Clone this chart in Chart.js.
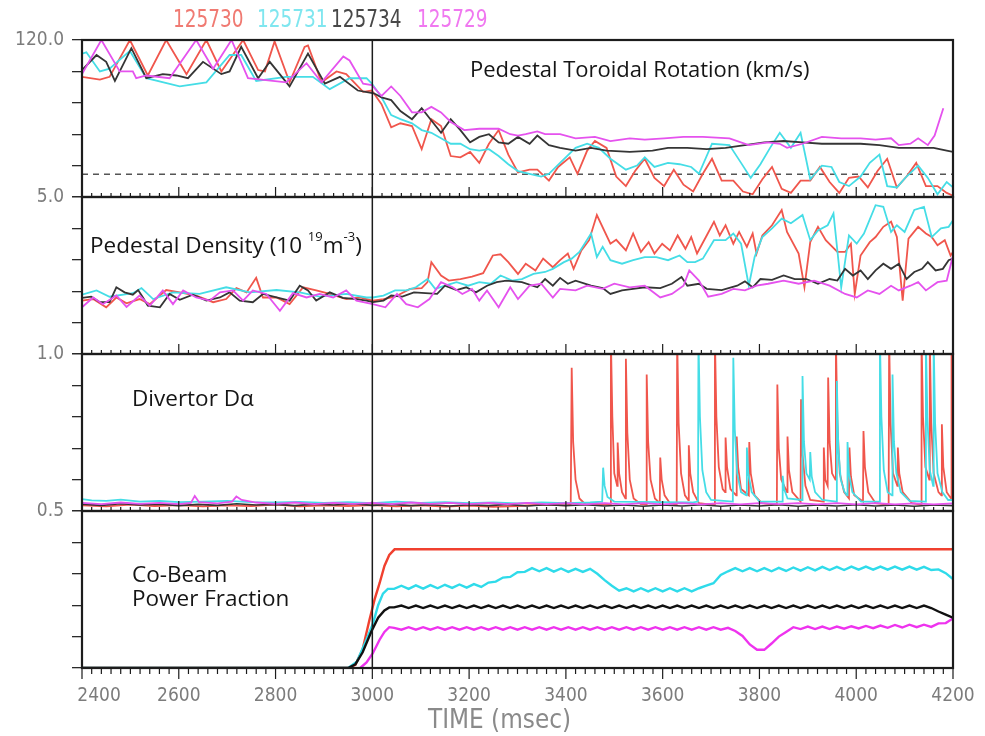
<!DOCTYPE html>
<html lang="en">
<head>
<meta charset="utf-8" />
<title>Pedestal rotation, density, D-alpha and co-beam fraction</title>
<style>
  body { margin: 0; background: #fff; }
  #wrap { position: relative; width: 985px; height: 736px; overflow: hidden; }
  #wrap canvas { position: absolute; left: 0; top: 0; }
  .lbl { position: absolute; font-family: 'Open Sans', 'Noto Sans', sans-serif; font-size: 22.5px; color: #151515; white-space: nowrap; line-height: 1; }
  .lbl sup { font-size: 13px; position: relative; top: -3px; }
  .shot { position: absolute; top: 6px; font-family: 'DejaVu Sans', sans-serif; font-size: 25px; line-height: 1; transform-origin: 0 0; transform: scaleX(0.74); }
  .xtitle { position: absolute; left: 428px; top: 705px; font-family: 'DejaVu Sans', sans-serif; font-size: 27px; color: #8a8a8a; line-height: 1; transform-origin: 0 0; transform: scaleX(0.86); }
</style>
</head>
<body>
<div id="wrap">
  <canvas id="chart" width="985" height="736"></canvas>
  <span class="shot" style="left:173px;color:#f07a72">125730</span>
  <span class="shot" style="left:257px;color:#7fe6ef">125731</span>
  <span class="shot" style="left:331px;color:#484848">125734</span>
  <span class="shot" style="left:417px;color:#f078f0">125729</span>
  <div class="lbl" style="left:470px;top:57px;font-size:22px">Pedestal Toroidal Rotation (km/s)</div>
  <div class="lbl" style="left:90px;top:233px">Pedestal Density (10 <sup>19</sup>m<sup>-3</sup>)</div>
  <div class="lbl" style="left:132px;top:387px">Divertor D&alpha;</div>
  <div class="lbl" style="left:132px;top:562px;line-height:24px">Co-Beam<br>Power Fraction</div>
  <div class="xtitle">TIME (msec)</div>
</div>

<script src="https://cdn.jsdelivr.net/npm/chart.js"></script>
<script>
  const shots = ['125730', '125731', '125734', '125729'];
  const colors = { '125730': '#f0564c', '125731': '#45dde6', '125734': '#353535', '125729': '#e552ee' };

  const xTicks = [2400, 2600, 2800, 3000, 3200, 3400, 3600, 3800, 4000, 4200];

  // Pedestal toroidal rotation, km/s  [msec, value]
  const rot730 = [[2400,93],[2437,91],[2457,93],[2499,120],[2536,94],[2574,120],[2616,95],[2657,120],[2688,97],[2733,120],[2764,98],[2778,97],[2798,119],[2829,89],[2860,115],[2867,116],[2895,89],[2926,97],[2946,95],[2981,82],[2999,83],[3019,73],[3039,56],[3058,59],[3082,57],[3102,40],[3122,62],[3142,57],[3162,35],[3182,34],[3202,38],[3221,30],[3241,44],[3261,54],[3281,36],[3301,23],[3325,25],[3341,25],[3365,17],[3384,27],[3408,34],[3424,22],[3444,39],[3460,46],[3484,41],[3504,20],[3524,13],[3543,24],[3563,33],[3583,19],[3603,13],[3623,25],[3643,14],[3663,9],[3683,22],[3702,33],[3722,17],[3746,17],[3766,9],[3786,7],[3806,18],[3826,27],[3846,11],[3865,8],[3885,17],[3905,17],[3925,27],[3945,16],[3965,8],[3985,19],[4005,20],[4024,12],[4044,24],[4064,33],[4084,12],[4104,20],[4124,30],[4144,13],[4168,13],[4187,8],[4200,6]];
  const rot731 = [[2400,110],[2409,111],[2437,97],[2457,99],[2499,112],[2533,92],[2602,86],[2657,89],[2705,109],[2729,109],[2760,90],[2822,93],[2877,93],[2912,84],[2953,92],[2988,92],[2999,88],[3019,78],[3039,65],[3058,62],[3082,59],[3102,54],[3122,52],[3142,48],[3162,44],[3182,44],[3202,40],[3221,39],[3241,40],[3261,35],[3281,29],[3301,24],[3325,22],[3349,20],[3365,22],[3388,30],[3420,41],[3444,44],[3468,41],[3492,33],[3524,25],[3547,28],[3563,34],[3583,27],[3611,30],[3635,29],[3659,27],[3675,22],[3702,44],[3738,43],[3762,30],[3782,19],[3802,29],[3822,41],[3842,52],[3865,41],[3885,52],[3905,18],[3929,28],[3949,27],[3965,16],[3985,13],[4009,20],[4028,30],[4048,36],[4064,13],[4084,12],[4104,20],[4128,28],[4148,19],[4168,7],[4187,16],[4200,12]];
  const rot734 = [[2400,98],[2430,109],[2450,104],[2468,90],[2502,114],[2533,92],[2567,95],[2595,94],[2619,92],[2650,104],[2688,95],[2705,97],[2729,115],[2764,92],[2788,104],[2829,86],[2867,110],[2902,88],[2933,93],[2970,83],[3003,81],[3019,78],[3039,76],[3058,68],[3082,62],[3102,70],[3122,61],[3142,52],[3162,62],[3182,54],[3202,45],[3221,49],[3241,51],[3261,45],[3281,44],[3301,49],[3325,44],[3341,50],[3365,43],[3388,41],[3420,39],[3452,41],[3484,39],[3532,38],[3579,39],[3611,41],[3651,41],[3691,40],[3730,41],[3770,43],[3810,45],[3850,46],[3889,45],[3929,44],[3969,44],[4009,44],[4048,43],[4088,41],[4128,41],[4160,41],[4187,39],[4200,38]];
  const rot729 = [[2400,95],[2440,120],[2478,97],[2505,97],[2512,92],[2533,94],[2581,92],[2636,120],[2671,99],[2709,120],[2743,92],[2822,89],[2864,103],[2895,89],[2940,108],[2953,105],[2981,88],[2999,87],[3019,79],[3039,86],[3058,79],[3082,67],[3102,67],[3122,71],[3142,67],[3162,60],[3190,54],[3221,55],[3261,55],[3285,51],[3301,50],[3317,51],[3341,53],[3357,51],[3388,51],[3420,48],[3460,49],[3492,46],[3532,48],[3563,47],[3603,48],[3643,49],[3683,49],[3738,48],[3778,43],[3818,45],[3842,44],[3857,41],[3889,44],[3929,49],[3969,48],[4009,48],[4040,47],[4072,48],[4088,43],[4112,44],[4128,48],[4148,43],[4162,50],[4180,70]];
  const rotRef = [[2400,21.7],[4200,21.7]];

  // Pedestal density, 10^19 m^-3
  const dens730 = [[2400,2.36],[2423,2.40],[2450,2.19],[2471,2.44],[2492,2.29],[2519,2.40],[2540,2.27],[2574,2.63],[2602,2.57],[2636,2.49],[2671,2.32],[2698,2.40],[2719,2.68],[2740,2.57],[2760,2.94],[2774,2.44],[2802,2.44],[2829,2.27],[2857,2.70],[2884,2.62],[2912,2.53],[2946,2.40],[2974,2.44],[3001,2.36],[3023,2.40],[3047,2.46],[3078,2.66],[3102,2.68],[3114,2.83],[3122,3.34],[3142,3.00],[3158,2.87],[3182,2.91],[3206,2.97],[3229,3.06],[3249,3.51],[3265,3.54],[3281,3.34],[3301,3.04],[3317,3.30],[3337,3.13],[3353,3.43],[3373,3.21],[3388,3.39],[3404,3.56],[3416,3.17],[3432,3.64],[3448,3.90],[3464,4.54],[3492,3.81],[3504,3.91],[3524,3.64],[3539,4.07],[3555,3.60],[3571,3.85],[3583,3.56],[3599,3.81],[3615,3.64],[3631,4.02],[3647,3.68],[3659,3.98],[3671,3.56],[3691,4.02],[3706,4.37],[3718,4.02],[3730,4.28],[3746,3.81],[3758,4.11],[3774,3.73],[3786,4.07],[3794,3.56],[3806,4.02],[3826,4.28],[3846,4.67],[3857,4.11],[3881,3.56],[3893,2.70],[3905,3.85],[3921,4.24],[3937,3.90],[3961,3.60],[3977,3.60],[3989,3.81],[3997,2.53],[4009,3.51],[4028,3.85],[4040,3.98],[4056,4.24],[4072,4.37],[4084,3.98],[4096,2.36],[4108,3.94],[4128,4.24],[4144,4.07],[4156,3.98],[4168,3.77],[4183,3.90],[4195,3.51],[4200,3.60]];
  const dens731 = [[2400,2.51],[2430,2.62],[2457,2.46],[2505,2.55],[2523,2.68],[2547,2.40],[2588,2.57],[2643,2.53],[2698,2.70],[2747,2.57],[2802,2.63],[2850,2.57],[2891,2.46],[2946,2.53],[2988,2.44],[3001,2.44],[3023,2.49],[3047,2.62],[3070,2.62],[3090,2.70],[3114,2.91],[3130,2.66],[3150,2.74],[3174,2.83],[3198,2.74],[3221,2.83],[3245,2.79],[3265,3.00],[3289,2.87],[3309,2.91],[3333,3.04],[3357,3.09],[3373,3.17],[3396,3.34],[3412,3.43],[3428,3.60],[3452,4.07],[3464,3.47],[3476,3.73],[3492,3.39],[3516,3.30],[3539,3.39],[3563,3.47],[3587,3.47],[3611,3.39],[3635,3.51],[3651,3.34],[3667,3.34],[3683,3.43],[3706,3.90],[3730,3.90],[3746,4.07],[3762,3.81],[3778,2.74],[3790,3.47],[3806,3.98],[3826,4.20],[3846,4.45],[3865,4.33],[3889,4.54],[3905,3.90],[3921,4.15],[3941,4.28],[3953,4.58],[3969,2.70],[3985,4.02],[4001,3.81],[4016,4.07],[4040,4.79],[4056,4.75],[4072,4.11],[4084,4.28],[4100,4.11],[4120,4.67],[4140,4.75],[4156,3.98],[4175,4.20],[4191,4.24],[4200,4.41]];
  const dens734 = [[2400,2.43],[2419,2.46],[2437,2.32],[2457,2.32],[2471,2.70],[2488,2.57],[2505,2.51],[2516,2.63],[2526,2.44],[2536,2.23],[2561,2.19],[2581,2.53],[2602,2.38],[2629,2.51],[2657,2.36],[2685,2.44],[2705,2.57],[2726,2.36],[2753,2.32],[2774,2.53],[2802,2.44],[2829,2.36],[2850,2.74],[2867,2.62],[2884,2.36],[2912,2.57],[2939,2.43],[2967,2.40],[2988,2.36],[3001,2.32],[3023,2.36],[3039,2.49],[3062,2.46],[3086,2.57],[3110,2.55],[3134,2.53],[3150,2.74],[3174,2.63],[3194,2.70],[3214,2.57],[3237,2.74],[3257,2.83],[3277,2.87],[3309,2.83],[3341,2.70],[3357,2.91],[3373,2.74],[3388,2.94],[3404,2.79],[3420,2.87],[3452,2.74],[3476,2.68],[3492,2.53],[3516,2.62],[3539,2.66],[3563,2.70],[3595,2.68],[3619,2.79],[3639,2.96],[3651,2.74],[3675,2.79],[3691,2.66],[3722,2.63],[3754,2.74],[3770,2.85],[3786,2.70],[3802,2.91],[3826,2.89],[3850,3.00],[3873,2.91],[3897,2.91],[3921,2.79],[3945,2.91],[3961,2.87],[3977,3.17],[3993,3.00],[4009,3.13],[4024,2.91],[4040,3.13],[4056,3.30],[4072,3.17],[4088,3.30],[4104,2.91],[4120,3.09],[4136,3.17],[4148,3.34],[4164,3.13],[4179,3.17],[4191,3.39],[4200,3.43]];
  const dens729 = [[2400,2.19],[2423,2.44],[2443,2.27],[2471,2.49],[2492,2.20],[2519,2.49],[2540,2.23],[2567,2.62],[2588,2.27],[2609,2.62],[2636,2.44],[2664,2.36],[2685,2.57],[2712,2.62],[2733,2.36],[2753,2.62],[2781,2.53],[2809,2.10],[2836,2.55],[2864,2.44],[2891,2.53],[2919,2.44],[2946,2.62],[2967,2.36],[3001,2.27],[3027,2.19],[3051,2.53],[3070,2.27],[3094,2.19],[3118,2.40],[3142,2.83],[3166,2.70],[3186,2.53],[3206,2.66],[3221,2.36],[3237,2.62],[3261,2.19],[3285,2.70],[3301,2.40],[3325,2.74],[3349,2.79],[3373,2.44],[3388,2.66],[3420,2.62],[3444,2.74],[3476,2.66],[3500,2.79],[3532,2.70],[3563,2.74],[3595,2.44],[3619,2.53],[3643,2.74],[3655,3.13],[3675,2.87],[3694,2.46],[3722,2.53],[3746,2.66],[3770,2.62],[3794,2.74],[3818,2.79],[3850,2.87],[3881,2.79],[3913,2.87],[3945,2.74],[3977,2.53],[4001,2.44],[4024,2.62],[4048,2.53],[4072,2.74],[4088,2.62],[4112,2.74],[4128,2.83],[4144,2.62],[4168,2.83],[4187,2.87],[4200,3.51]];

  // Divertor D-alpha (values above 1.0 run off the top of the panel)
  const da730 = [[2400,0.518],[2450,0.515],[2500,0.52],[2550,0.516],[2600,0.519],[2650,0.515],[2700,0.518],[2750,0.516],[2800,0.52],[2850,0.515],[2900,0.518],[2950,0.516],[3000,0.519],[3050,0.515],[3100,0.518],[3150,0.514],[3200,0.517],[3250,0.513],[3300,0.516],[3350,0.52],[3400,0.518],
    [3410,0.52],[3412,0.956],[3415,0.72],[3420,0.6],[3428,0.54],[3440,0.522],[3470,0.52],[3492,0.52],[3493,1.05],[3496,0.8],[3500,0.62],
    [3506,0.58],[3507,0.718],[3510,0.62],[3516,0.56],[3523,0.54],[3524,0.985],[3527,0.75],[3532,0.6],[3540,0.54],[3555,0.522],
    [3566,0.52],[3567,0.935],[3570,0.72],[3575,0.6],[3584,0.54],[3594,0.525],[3595,0.67],[3598,0.6],[3604,0.55],[3615,0.525],
    [3629,0.52],[3630,1.05],[3633,0.78],[3638,0.62],[3646,0.55],[3653,0.535],[3654,0.709],[3657,0.62],[3663,0.56],[3675,0.525],[3700,0.52],
    [3707,0.52],[3708,1.05],[3711,0.8],[3716,0.64],[3724,0.57],[3729,0.56],[3730,0.734],[3733,0.64],[3740,0.57],
    [3752,0.55],[3753,0.737],[3756,0.64],[3762,0.57],[3778,0.55],[3779,0.72],[3782,0.62],[3790,0.55],[3805,0.525],
    [3836,0.52],[3837,0.903],[3840,0.7],[3845,0.6],[3857,0.56],[3858,0.737],[3861,0.63],[3868,0.56],
    [3885,0.53],[3886,0.856],[3889,0.68],[3895,0.58],[3905,0.535],[3932,0.53],[3933,0.702],[3936,0.6],
    [3941,0.58],[3942,0.925],[3945,0.72],[3950,0.62],[3957,0.6],[3958,1.05],[3961,0.78],[3966,0.62],[3975,0.56],
    [3985,0.54],[3986,0.702],[3989,0.61],[3996,0.55],[4014,0.53],[4015,0.755],[4018,0.64],[4025,0.56],[4040,0.525],
    [4067,0.52],[4068,1.05],[4071,0.78],[4076,0.62],[4085,0.58],[4086,0.702],[4089,0.62],[4096,0.56],[4115,0.525],
    [4134,0.52],[4135,1.05],[4138,0.8],[4143,0.64],[4151,0.6],[4152,1.05],[4155,0.78],[4160,0.62],[4170,0.56],
    [4176,0.55],[4177,0.776],[4180,0.64],[4187,0.56],[4196,0.54],[4197,1.05],[4200,0.8]];
  const da731 = [[2400,0.538],[2420,0.534],[2450,0.532],[2480,0.536],[2520,0.53],[2560,0.532],[2600,0.528],[2650,0.53],[2700,0.532],[2750,0.528],[2800,0.527],[2850,0.529],[2900,0.526],[2950,0.528],[3000,0.525],[3050,0.53],[3100,0.526],[3150,0.528],[3200,0.525],[3250,0.527],[3300,0.524],[3350,0.527],[3400,0.525],[3450,0.527],
    [3475,0.53],[3477,0.638],[3480,0.58],[3486,0.545],[3500,0.53],[3600,0.528],[3660,0.527],
    [3673,0.53],[3674,1.05],[3677,0.8],[3682,0.63],[3690,0.56],[3700,0.535],
    [3745,0.53],[3746,0.988],[3749,0.76],[3754,0.62],[3762,0.56],[3773,0.55],[3774,0.702],[3777,0.62],[3784,0.56],[3800,0.53],
    [3847,0.53],[3848,0.612],[3851,0.57],[3858,0.54],[3888,0.535],[3889,0.93],[3892,0.72],[3897,0.62],
    [3904,0.6],[3905,0.688],[3908,0.61],[3915,0.56],[3930,0.535],[3959,0.53],[3960,0.914],[3963,0.7],[3968,0.6],[3976,0.56],
    [3981,0.55],[3982,0.72],[3985,0.62],[3992,0.56],[4010,0.53],[4048,0.53],[4049,1.05],[4052,0.8],[4057,0.63],[4065,0.56],
    [4074,0.55],[4075,0.935],[4078,0.72],[4083,0.62],[4092,0.56],[4110,0.532],
    [4143,0.53],[4144,1.05],[4147,0.8],[4152,0.63],[4159,0.58],[4160,1.05],[4163,0.78],[4168,0.62],[4178,0.56],[4190,0.535],[4200,0.535]];
  const da734 = [[2400,0.522],[2440,0.518],[2480,0.523],[2520,0.519],[2560,0.522],[2600,0.517],[2640,0.521],[2680,0.518],[2720,0.523],[2760,0.519],[2800,0.521],[2840,0.517],[2880,0.522],[2920,0.519],[2960,0.523],[3000,0.518],[3040,0.521],[3080,0.517],[3120,0.52],[3160,0.516],[3200,0.52],[3240,0.517],[3280,0.521],[3320,0.516],[3360,0.52],[3400,0.517],[3440,0.52],[3480,0.516],[3520,0.519],[3560,0.515],[3600,0.519],[3640,0.516],[3680,0.52],[3720,0.515],[3760,0.519],[3800,0.516],[3840,0.52],[3880,0.515],[3920,0.519],[3960,0.516],[4000,0.52],[4040,0.516],[4080,0.519],[4120,0.515],[4160,0.519],[4200,0.517]];
  const da729 = [[2400,0.526],[2440,0.522],[2480,0.527],[2520,0.523],[2560,0.526],[2600,0.522],[2625,0.526],[2633,0.548],[2642,0.528],[2680,0.524],[2710,0.53],[2719,0.546],[2730,0.535],[2760,0.527],[2800,0.523],[2840,0.527],[2880,0.522],[2920,0.526],[2960,0.523],[3000,0.526],[3040,0.522],[3080,0.527],[3120,0.523],[3160,0.526],[3200,0.522],[3240,0.526],[3280,0.522],[3320,0.526],[3360,0.522],[3400,0.525],[3440,0.521],[3480,0.525],[3520,0.521],[3560,0.525],[3600,0.521],[3640,0.525],[3680,0.521],[3720,0.525],[3760,0.521],[3800,0.525],[3840,0.522],[3880,0.525],[3920,0.521],[3960,0.525],[4000,0.521],[4040,0.525],[4080,0.521],[4120,0.524],[4160,0.521],[4200,0.524]];

  // Co-beam power fraction: turn-on ramps, then the wavy plateaus sampled every 15 msec
  const beam730 = [[2400,0],[2950,0],[2965,0.01],[2980,0.06],[2994,0.153],[3005,0.22],[3015,0.27],[3025,0.325],[3035,0.36],[3046,0.378],[4200,0.378]];
  const ramp731 = [[2400,0],[2950,0],[2968,0.02],[2985,0.08],[3001,0.14],[3012,0.2],[3022,0.237],[3032,0.252]];
  const ramp734 = [[2400,0],[2950,0],[2965,0.012],[2980,0.05],[2998,0.116],[3012,0.16],[3025,0.183],[3035,0.193]];
  const ramp729 = [[2975,0],[2988,0.018],[3001,0.047],[3015,0.09],[3025,0.115],[3035,0.13]];
  const beamT = Array.from({ length: 78 }, (_, i) => 3045 + 15 * i);
  const plateau731 = [0.252,0.262,0.252,0.263,0.253,0.264,0.254,0.265,0.255,0.266,0.256,0.267,0.258,0.272,0.275,0.288,0.290,0.305,0.306,0.318,
    0.308,0.318,0.307,0.317,0.306,0.316,0.306,0.316,0.300,0.280,0.262,0.246,0.254,0.244,0.254,0.244,0.254,0.244,0.254,0.244,
    0.254,0.244,0.254,0.262,0.270,0.296,0.308,0.318,0.308,0.318,0.308,0.318,0.308,0.319,0.309,0.320,0.310,0.321,0.311,0.322,
    0.312,0.322,0.312,0.323,0.313,0.323,0.313,0.323,0.313,0.323,0.313,0.323,0.313,0.322,0.312,0.314,0.302,0.283];
  const plateau734 = [0.193,0.199,0.191,0.199,0.191,0.199,0.191,0.199,0.191,0.199,0.191,0.199,0.191,0.199,0.191,0.199,0.191,0.199,0.191,0.199,
    0.191,0.199,0.191,0.199,0.191,0.199,0.191,0.199,0.191,0.199,0.191,0.199,0.191,0.199,0.191,0.199,0.191,0.199,0.191,0.199,
    0.191,0.199,0.191,0.199,0.191,0.199,0.191,0.199,0.191,0.199,0.191,0.199,0.191,0.199,0.191,0.199,0.191,0.199,0.191,0.199,
    0.191,0.199,0.191,0.199,0.191,0.199,0.191,0.199,0.191,0.199,0.191,0.199,0.191,0.199,0.191,0.180,0.170,0.160];
  const plateau729 = [0.128,0.122,0.130,0.122,0.130,0.122,0.130,0.122,0.130,0.122,0.130,0.122,0.130,0.122,0.130,0.122,0.130,0.122,0.130,0.122,
    0.130,0.122,0.130,0.122,0.130,0.122,0.130,0.122,0.130,0.122,0.130,0.122,0.130,0.122,0.130,0.122,0.130,0.122,0.130,0.122,
    0.130,0.122,0.130,0.122,0.130,0.122,0.128,0.118,0.102,0.075,0.058,0.058,0.078,0.100,0.115,0.130,0.124,0.132,0.124,0.132,
    0.124,0.132,0.125,0.133,0.126,0.134,0.127,0.135,0.128,0.137,0.129,0.138,0.130,0.138,0.131,0.142,0.143,0.158];

  const zip = (ts, vs) => ts.map((t, i) => [t, vs[i]]);
  const beam731 = ramp731.concat(zip(beamT, plateau731));
  const beam734 = ramp734.concat(zip(beamT, plateau734));
  const beam729 = ramp729.concat(zip(beamT, plateau729));

  const tickFont = { family: "'DejaVu Sans Condensed', 'DejaVu Sans', sans-serif", size: 19 };

  function line(data, shot, axis, width, order, extra) {
    return Object.assign({
      label: shot, data, yAxisID: axis,
      borderColor: colors[shot], borderWidth: width,
      pointRadius: 0, tension: 0, fill: false, order,
      clip: { left: 0, right: 0, top: 0, bottom: 1 }
    }, extra || {});
  }

  // one stacked y axis per panel; only some ends carry a label
  function panelAxis(ticks, labels) {
    return {
      type: 'linear', position: 'left', stack: 'panels', stackWeight: 1,
      min: ticks[0], max: ticks[ticks.length - 1],
      afterBuildTicks: s => { s.ticks = ticks.map(v => ({ value: v })); },
      afterFit: s => { s.width = 82; },
      grid: { drawOnChartArea: false, drawTicks: true, tickLength: 10, color: '#2a2a2a', lineWidth: 1.3 },
      border: { display: false },
      ticks: {
        autoSkip: false, padding: 8, color: '#7c7c7c', font: tickFont,
        callback: v => {
          const hit = labels.find(l => Math.abs(l[0] - v) < 1e-6);
          return hit ? hit[1] : '';
        }
      }
    };
  }

  const panelIds = ['p1', 'p2', 'p3', 'p4'];

  const panelFrame = {
    id: 'panelFrame',
    afterDatasetsDraw(chart) {
      const { ctx, chartArea: a, scales } = chart;
      const xs = scales.x;
      ctx.save();
      ctx.strokeStyle = '#1c1c1c';

      // shot reference at 3000 msec
      ctx.lineWidth = 1.5;
      const xm = xs.getPixelForValue(3000);
      ctx.beginPath(); ctx.moveTo(xm, a.top); ctx.lineTo(xm, a.bottom); ctx.stroke();

      // time ticks along the bottom of each panel
      ctx.lineWidth = 1.2;
      for (const id of panelIds) {
        const s = scales[id];
        const down = id === 'p4';
        ctx.beginPath();
        for (let t = 2400; t <= 4200; t += 20) {
          const major = t % 200 === 0;
          const x = xs.getPixelForValue(t);
          const len = down ? (major ? 11 : 6) : (major ? 10 : 4);
          ctx.moveTo(x, s.bottom);
          ctx.lineTo(x, down ? s.bottom + len : s.bottom - len);
        }
        ctx.stroke();
      }

      ctx.lineWidth = 2.2;
      for (const id of panelIds) {
        const s = scales[id];
        ctx.strokeRect(a.left, s.top, a.right - a.left, s.bottom - s.top);
      }
      ctx.restore();
    }
  };

  new Chart(document.getElementById('chart'), {
    type: 'line',
    data: {
      datasets: [
        line(rot729, '125729', 'p1', 1.8, 1),
        line(rot734, '125734', 'p1', 1.8, 2),
        line(rot731, '125731', 'p1', 1.8, 3),
        line(rot730, '125730', 'p1', 1.8, 4),
        { label: 'ref', data: rotRef, yAxisID: 'p1', borderColor: '#555', borderWidth: 1.4, borderDash: [6, 5], pointRadius: 0, order: 5 },

        line(dens729, '125729', 'p2', 1.8, 1),
        line(dens734, '125734', 'p2', 1.8, 2),
        line(dens731, '125731', 'p2', 1.8, 3),
        line(dens730, '125730', 'p2', 1.8, 4),

        line(da729, '125729', 'p3', 1.8, 1),
        line(da734, '125734', 'p3', 1.6, 2),
        line(da731, '125731', 'p3', 1.8, 3),
        line(da730, '125730', 'p3', 1.8, 4),

        line(beam734, '125734', 'p4', 2.4, 0, { borderColor: '#111' }),
        line(beam729, '125729', 'p4', 2.4, 1, { borderColor: '#ee33ee' }),
        line(beam731, '125731', 'p4', 2.4, 3, { borderColor: '#2fdbea' }),
        line(beam730, '125730', 'p4', 2.4, 4, { borderColor: '#f0402f' })
      ]
    },
    options: {
      responsive: false,
      animation: false,
      events: [],
      layout: { padding: { top: 40, right: 32, left: 0, bottom: 0 } },
      plugins: { legend: { display: false }, tooltip: { enabled: false } },
      scales: {
        x: {
          type: 'linear', position: 'bottom', min: 2400, max: 4200,
          afterBuildTicks: s => { s.ticks = xTicks.map(v => ({ value: v })); },
          afterFit: s => { s.height = 68; s.paddingLeft = 0; s.paddingRight = 0; },
          grid: { display: false, drawTicks: false },
          border: { display: false },
          ticks: {
            autoSkip: false, maxRotation: 0, padding: 17, color: '#7c7c7c', font: tickFont,
            // the first label sits just right of the axis, as in the original plot
            callback: v => v === xTicks[0] ? '\u2002\u2002\u2002\u2002' + v : String(v)
          }
        },
        // stacked axes are laid out bottom-up in definition order
        p4: panelAxis([0, 0.1, 0.2, 0.3, 0.4, 0.5], []),
        p3: panelAxis([0.5, 0.6, 0.7, 0.8, 0.9, 1.0], [[0.5, '0.5']]),
        p2: panelAxis([1, 1.8, 2.6, 3.4, 4.2, 5], [[1, '1.0']]),
        p1: panelAxis([5, 28, 51, 74, 97, 120], [[120, '120.0'], [5, '5.0']])
      }
    },
    plugins: [panelFrame]
  });
</script>
</body>
</html>
